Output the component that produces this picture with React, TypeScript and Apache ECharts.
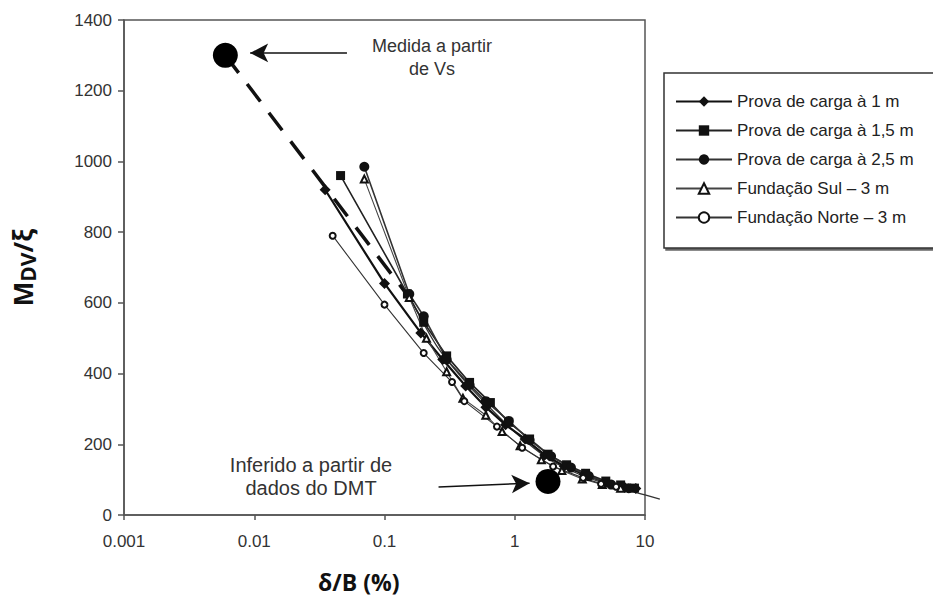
import React, { useEffect, useRef } from "react";
import * as echarts from "echarts";

const legendNames = [
  "Prova de carga à 1 m",
  "Prova de carga à 1,5 m",
  "Prova de carga à 2,5 m",
  "Fundação Sul – 3 m",
  "Fundação Norte – 3 m",
];

const prova1m: [number, number][] = [
  [0.035, 920], [0.1, 655], [0.19, 515], [0.28, 440], [0.42, 365], [0.6, 305],
  [0.85, 255], [1.2, 215], [1.7, 170], [2.4, 138], [3.4, 115], [5, 92], [7, 78], [8.5, 75],
];
const prova15m: [number, number][] = [
  [0.046, 960], [0.15, 625], [0.2, 545], [0.3, 450], [0.45, 375], [0.65, 318],
  [0.9, 262], [1.3, 215], [1.8, 172], [2.5, 142], [3.5, 118], [5, 96], [6.5, 85], [8.3, 76],
];
const prova25m: [number, number][] = [
  [0.07, 985], [0.155, 625], [0.2, 562], [0.3, 440], [0.45, 368], [0.6, 322],
  [0.9, 266], [1.3, 212], [1.9, 166], [2.7, 134], [3.7, 110], [5.5, 86], [7.5, 76],
];
const fundSul: [number, number][] = [
  [0.07, 950], [0.155, 615], [0.21, 500], [0.3, 405], [0.4, 330], [0.6, 282],
  [0.8, 236], [1.1, 196], [1.6, 156], [2.3, 126], [3.3, 102], [4.7, 86], [6.5, 76],
];
const fundNorte: [number, number][] = [
  [0.04, 790], [0.1, 595], [0.2, 458], [0.33, 376], [0.41, 322], [0.73, 250],
  [1.14, 190], [1.97, 137], [3.35, 105], [4.6, 88], [6, 80],
];

const vsPoint: [number, number][] = [[0.006, 1300]];
const dmtPoint: [number, number][] = [[1.8, 95]];
const trendDashed: [number, number][] = [[0.006, 1300], [0.16, 608]];
const trendSolid: [number, number][] = [
  [0.16, 608], [0.25, 480], [0.4, 385], [0.6, 315], [1, 235], [1.8, 160],
  [3, 118], [5, 88], [8, 66], [10, 57],
];
const trendExtension: [number, number][] = [[10, 57], [13, 45]];
const arrowVs: [number, number][] = [[0.0515, 1307], [0.0093, 1307]];
const arrowDmt: [number, number][] = [[0.26, 79], [1.3, 90]];

const annVs = ["Medida a partir", "de Vs"];
const annDmt = ["Inferido a partir de", "dados do DMT"];

export default function App() {
  const ref = useRef<HTMLDivElement>(null);
  useEffect(() => {
    if (!ref.current) return;
    const chart = echarts.init(ref.current, null, { renderer: "svg" });
    const sans = "Liberation Sans, Arial, sans-serif";
    const lineSeries = (name: string, data: [number, number][], symbol: string, size: number, width: number, color: string) => ({
      name,
      type: "line",
      data,
      symbol,
      symbolSize: size,
      showAllSymbol: true,
      lineStyle: { color, width },
      itemStyle: { color: "#111", opacity: 1 },
      z: 5,
    });
    const textLine = (t: string, x: number, y: number, size: number) => ({
      type: "text",
      x,
      y,
      style: {
        text: t,
        font: `${size}px Liberation Sans, Arial, sans-serif`,
        fill: "#333",
        align: "center",
        verticalAlign: "middle",
      },
    });
    chart.setOption({
      animation: false,
      backgroundColor: "#fff",
      grid: {
        left: 124, right: 288, top: 20, bottom: 81,
        show: true, borderColor: "#555", borderWidth: 1.5,
      },
      xAxis: {
        type: "log",
        logBase: 10,
        min: 0.001,
        max: 10,
        axisLine: { lineStyle: { color: "#555", width: 1.5 } },
        axisTick: { show: true, length: 5, lineStyle: { color: "#555", width: 1.5 } },
        minorTick: { show: false },
        splitLine: { show: false },
        axisLabel: {
          margin: 18,
          fontSize: 17,
          fontFamily: sans,
          color: "#333",
          formatter: (v: number) => {
            const e = Math.round(Math.log10(v));
            return e >= 0 ? String(Math.pow(10, e)) : Math.pow(10, e).toFixed(-e);
          },
        },
      },
      yAxis: {
        type: "value",
        min: 0,
        max: 1400,
        interval: 200,
        name: "{m|M}{s|DV}{m|/ξ}",
        nameLocation: "middle",
        nameRotate: 90,
        nameGap: 86,
        nameTextStyle: {
          rich: {
            m: { fontSize: 26, fontWeight: "bold", fontFamily: "Open Sans", color: "#111" },
            s: { fontSize: 21, fontWeight: "bold", fontFamily: "Open Sans", color: "#111", verticalAlign: "bottom", padding: [10, 0, 0, 0] },
          },
        },
        axisLine: { show: true, lineStyle: { color: "#555", width: 1.5 } },
        axisTick: { show: true, length: 6, lineStyle: { color: "#555", width: 1.5 } },
        splitLine: { show: false },
        axisLabel: { margin: 12, fontSize: 17, fontFamily: sans, color: "#333", formatter: (v: number) => String(v) },
      },
      legend: {
        orient: "vertical",
        left: 664,
        top: 73,
        data: legendNames,
        itemWidth: 56,
        itemHeight: 13,
        itemGap: 12,
        borderColor: "#333",
        borderWidth: 1.5,
        padding: [20, 34, 22, 11],
        shadowColor: "rgba(0,0,0,0.6)",
        shadowOffsetX: 2,
        shadowOffsetY: 2,
        shadowBlur: 1,
        backgroundColor: "#fff",
        textStyle: { fontSize: 17, fontFamily: sans, color: "#222" },
      },
      graphic: [
        textLine(annVs[0], 432, 46, 18),
        textLine(annVs[1], 432, 69, 18),
        textLine(annDmt[0], 311, 465, 20),
        textLine(annDmt[1], 311, 488, 20),
        {
          type: "text",
          left: 318,
          top: 570,
          style: {
            text: "δ/B (%)",
            font: "bold 23px Open Sans, sans-serif",
            fill: "#111",
          },
        },
      ],
      series: [
        {
          name: "trendDashed",
          type: "line",
          data: trendDashed,
          symbol: "none",
          lineStyle: { color: "#111", width: 3.5, type: [22, 14] },
          z: 2,
        },
        {
          name: "trendSolid",
          type: "line",
          data: trendSolid,
          symbol: "none",
          smooth: 0.3,
          lineStyle: { color: "#333", width: 1.3 },
          z: 2,
        },
        lineSeries(legendNames[0], prova1m, "diamond", 11, 2.2, "#111"),
        lineSeries(legendNames[1], prova15m, "rect", 9, 1.6, "#222"),
        lineSeries(legendNames[2], prova25m, "circle", 10, 1.6, "#333"),
        lineSeries(legendNames[3], fundSul, "emptyTriangle", 7, 1.1, "#444"),
        lineSeries(legendNames[4], fundNorte, "emptyCircle", 6, 1.1, "#333"),
        {
          name: "Vs",
          type: "scatter",
          data: vsPoint,
          symbolSize: 25,
          itemStyle: { color: "#000", opacity: 1 },
          z: 6,
          markLine: {
            silent: true,
            symbol: ["none", "arrow"],
            symbolSize: [14, 18],
            label: { show: false },
            lineStyle: { color: "#111", width: 1.5, type: "solid", opacity: 1 },
            data: [
              [{ coord: arrowVs[0] }, { coord: arrowVs[1] }],
              [{ coord: arrowDmt[0] }, { coord: arrowDmt[1] }],
            ],
          },
        },
        {
          name: "DMT",
          type: "scatter",
          data: dmtPoint,
          symbolSize: 25,
          itemStyle: { color: "#000", opacity: 1 },
          z: 6,
        },
      ],
    });
    const extPts = trendExtension.map((p) =>
      chart.convertToPixel({ xAxisIndex: 0, yAxisIndex: 0 }, p) as number[]
    );
    if (extPts.every((p) => Array.isArray(p) && isFinite(p[0]) && isFinite(p[1]))) {
      chart.setOption({
        graphic: [
          {
            id: "trendExt",
            type: "polyline",
            shape: { points: extPts },
            style: { stroke: "#333", lineWidth: 1.3, fill: null },
            z: 2,
          },
        ],
      });
    }
    return () => chart.dispose();
  }, []);
  return <div ref={ref} style={{ position: "fixed", left: 0, top: 0, width: 933, height: 596 }} />;
}
